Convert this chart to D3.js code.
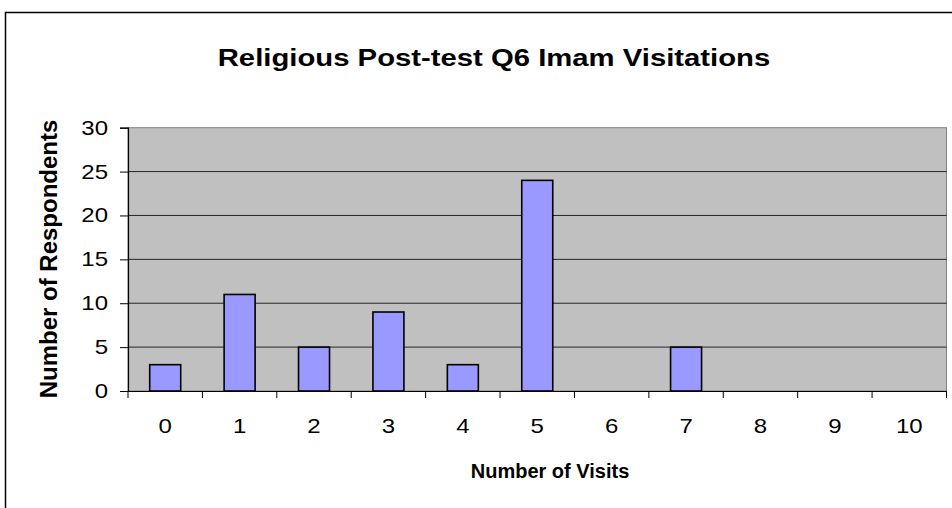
<!DOCTYPE html>
<html><head><meta charset="utf-8">
<script src="https://cdn.jsdelivr.net/npm/d3@7"></script>
<style>html,body{margin:0;padding:0;background:#fff;}svg{display:block;}</style>
</head><body>
<script>
const categories = ["0","1","2","3","4","5","6","7","8","9","10"];
const values = [3, 11, 5, 9, 3, 24, 0, 5, 0, 0, 0];
const yTicks = [0, 5, 10, 15, 20, 25, 30];
const title = "Religious Post-test Q6 Imam Visitations";
const xTitle = "Number of Visits";
const yTitle = "Number of Respondents";

const W = 952, H = 508;
const FONT = "Liberation Sans, Arial, sans-serif";
const svg = d3.select("body").append("svg").attr("width", W).attr("height", H);
svg.append("rect").attr("width", W).attr("height", H).attr("fill", "#fff");
svg.append("rect").attr("x", 5.5).attr("y", 12.5).attr("width", 960).attr("height", 520)
  .attr("fill", "none").attr("stroke", "#000").attr("stroke-width", 1.5);

const L = 128, R = 946.5, T = 127.7, B = 391;
const xb = d3.scaleBand().domain(categories).range([L, R]);
const y = d3.scaleLinear().domain([0, 30]).range([B, T]);

function stext(g, x, yy, str, size, sx, opts = {}) {
  return g.append("text")
    .attr("transform", `translate(${x},${yy}) scale(${sx},1)`)
    .attr("text-anchor", opts.anchor || "middle")
    .attr("font-family", FONT).attr("font-size", size)
    .attr("font-weight", opts.bold ? "bold" : null)
    .attr("fill", "#000").text(str);
}

svg.append("rect").attr("x", L).attr("y", T).attr("width", R - L).attr("height", B - T)
  .attr("fill", "#C0C0C0").attr("stroke", "#808080").attr("stroke-width", 1);

svg.append("g").selectAll("line").data(yTicks.filter(d => d > 0 && d < 30)).join("line")
  .attr("x1", L).attr("x2", R).attr("y1", d => y(d)).attr("y2", d => y(d))
  .attr("stroke", "#000").attr("stroke-width", 1).attr("opacity", 0.8);

const barData = values.map((v, i) => ({c: categories[i], v})).filter(d => d.v > 0);
svg.append("g").selectAll("rect").data(barData).join("rect")
  .attr("x", d => xb(d.c) + xb.bandwidth() / 2 - 15.5).attr("width", 31)
  .attr("y", d => y(d.v)).attr("height", d => y(0) - y(d.v))
  .attr("fill", "#9999FF").attr("stroke", "#000").attr("stroke-width", 1.6);

// y axis
const yAxis = svg.append("g").attr("transform", `translate(${L},0)`)
  .call(d3.axisLeft(y).tickValues(yTicks).tickSize(8).tickFormat(""));
yAxis.select(".domain").attr("stroke", "#000").attr("stroke-width", 1.2);
yAxis.selectAll(".tick line").attr("stroke", "#000");
const yl = svg.append("g");
yTicks.forEach(t => stext(yl, 108, y(t) + 7, String(t), 20, 1.2, {anchor: "end"}));

// x axis
const xAxis = svg.append("g").attr("transform", `translate(0,${B})`)
  .call(d3.axisBottom(xb).tickSize(0).tickFormat(""));
xAxis.select(".domain").attr("stroke", "#000").attr("stroke-width", 1.2);
const bounds = categories.map(c => xb(c)).concat([R]);
svg.append("g").selectAll("line").data(bounds).join("line")
  .attr("x1", d => d).attr("x2", d => d).attr("y1", B).attr("y2", B + 7)
  .attr("stroke", "#000").attr("stroke-width", 1);
const xl = svg.append("g");
categories.forEach(c => stext(xl, xb(c) + xb.bandwidth() / 2, 433, c, 20, 1.2));

stext(svg, 494, 66, title, 24, 1.22, {bold: true});
stext(svg, 550, 478, xTitle, 20, 1.0, {bold: true});
svg.append("text").attr("transform", `translate(57,259) rotate(-90)`).attr("text-anchor", "middle")
  .attr("font-family", FONT).attr("font-weight", "bold").attr("font-size", 24)
  .text(yTitle);
</script>
</body></html>
